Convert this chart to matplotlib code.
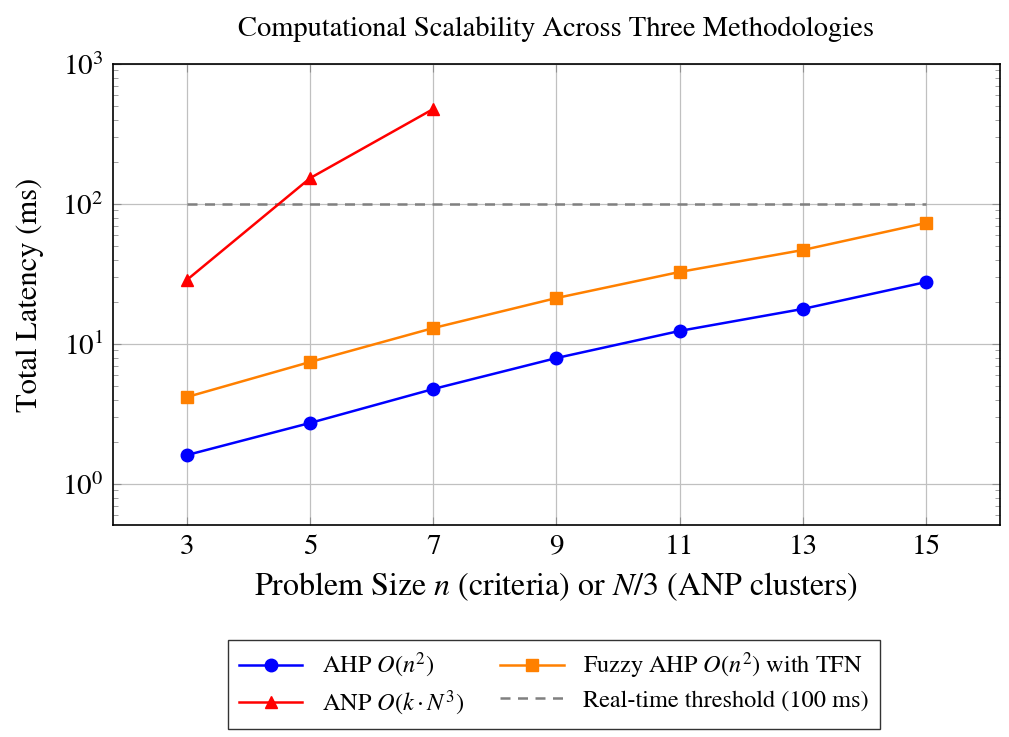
import matplotlib
matplotlib.use("Agg")
import matplotlib.pyplot as plt
from matplotlib.ticker import LogLocator, NullFormatter

plt.rcParams['font.family'] = ['STIXGeneral', 'DejaVu Serif']
plt.rcParams['mathtext.fontset'] = 'stix'

x_all = [3, 5, 7, 9, 11, 13, 15]
ahp = [1.61, 2.73, 4.77, 7.94, 12.4, 17.8, 27.7]
fuzzy = [4.18, 7.44, 13.0, 21.3, 32.7, 46.9, 73.2]
x_anp = [3, 5, 7]
anp = [28.7, 153, 477]
threshold_x = [3, 15]
threshold_y = [100, 100]

fig = plt.figure(figsize=(10.09, 7.37), dpi=100)
ax = fig.add_axes([0.112, 0.2877, 0.879, 0.6255])

l1, = ax.plot(x_all, ahp, color='#0000ff', marker='o', markersize=9, lw=1.8,
              label=r'AHP $O(n^2)$', zorder=3)
l3, = ax.plot(x_all, fuzzy, color='#ff8000', marker='s', markersize=9, lw=1.8,
              label=r'Fuzzy AHP $O(n^2)$ with TFN', zorder=3)
l2, = ax.plot(x_anp, anp, color='#ff0000', marker='^', markersize=9, lw=1.8,
              label=r'ANP $O(k\cdot N^3)$', zorder=3)
l4, = ax.plot(threshold_x, threshold_y, color='#808080', ls=(0, (4, 3)), lw=1.8,
              label='Real-time threshold (100 ms)', zorder=2)

ax.set_yscale('log')
ax.set_ylim(0.51, 1000)
ax.set_xlim(1.8, 16.2)
ax.set_xticks(x_all)
ax.yaxis.set_major_locator(LogLocator(base=10, numticks=10))
ax.yaxis.set_minor_locator(LogLocator(base=10, subs=range(2, 10), numticks=20))
ax.yaxis.set_minor_formatter(NullFormatter())
ax.grid(True, which='major', color='#c0c0c0', lw=0.9)
ax.tick_params(which='both', direction='in', top=True, right=True, color='#909090')
ax.tick_params(which='major', length=6, labelsize=21, pad=7)
ax.tick_params(which='minor', length=3.5)
for s in ax.spines.values():
    s.set_linewidth(1.2)

ax.set_title('Computational Scalability Across Three Methodologies', fontsize=20.5, pad=20)
ax.set_xlabel(r'Problem Size $n$ (criteria) or $N/3$ (ANP clusters)', fontsize=23, labelpad=8)
ax.set_ylabel('Total Latency (ms)', fontsize=22, labelpad=13)

fig.legend(handles=[l1, l2, l3, l4], ncol=2, loc='center',
           bbox_to_anchor=(0.549, 0.0715), fontsize=17.5, frameon=True,
           fancybox=False, edgecolor='black', columnspacing=1.5,
           handlelength=2.6, borderpad=0.45, labelspacing=0.35)

fig.savefig('out.png', dpi=100)
